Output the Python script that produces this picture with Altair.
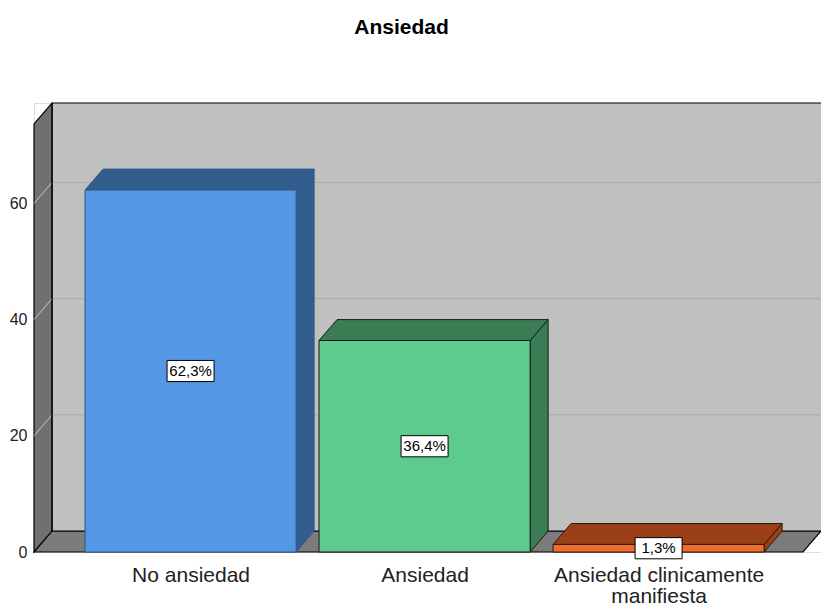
import altair as alt
import pandas as pd

# ---- data ----
categories = ["No ansiedad", "Ansiedad", "Ansiedad clinicamente manifiesta"]
axis_label_lines = [["No ansiedad"], ["Ansiedad"], ["Ansiedad clinicamente", "manifiesta"]]
percents = [62.3, 36.4, 1.3]
value_labels = ["62,3%", "36,4%", "1,3%"]
y_ticks = [0, 20, 40, 60]
title_text = "Ansiedad"

# ---- styles ----
front_colors = ["#5596e6", "#5ccb8b", "#f26b2b"]
dark_colors = ["#345d8f", "#3a7d55", "#9a3f18"]
edge_colors = ["#2f5a8a", "#1a1a1a", "#2a1a10"]
FONT = "Liberation Sans"

# 3D geometry (in data units)
HALF = 0.451     # half bar width
DX = 0.077       # depth offset along x
DY = 3.6         # depth offset along y
XMIN, XMAX = -0.669, 2.694
YMAX = 77.28

pos = list(range(len(categories)))

label_expr = "[" + ",".join(
    "[" + ",".join("'" + s + "'" for s in lines) + "]" for lines in axis_label_lines
) + "][datum.value]"

xscale = alt.Scale(domain=[XMIN, XMAX], nice=False, zero=False)
yscale = alt.Scale(domain=[0, YMAX], nice=False, zero=False)
xaxis = alt.Axis(values=pos, labelExpr=label_expr, domain=False, ticks=False, grid=False,
                 title=None, labelFontSize=21, labelFont=FONT, labelColor="#222222",
                 labelPadding=12, labelLineHeight=21, labelAngle=0, labelLimit=0)
yaxis = alt.Axis(values=y_ticks, domain=False, ticks=False, grid=False, title=None,
                 labelFontSize=16, labelFont=FONT, labelColor="#222222", labelPadding=7)


def X(f):
    return alt.X(f, type="quantitative", scale=xscale, axis=xaxis)


def Y(f):
    return alt.Y(f, type="quantitative", scale=yscale, axis=yaxis)


# ---- walls ----
back = pd.DataFrame({"x": [XMIN + DX], "x2": [XMAX], "y": [DY], "y2": [YMAX]})
back_wall = alt.Chart(back).mark_rect(fill="#c0c0c0").encode(
    x=X("x"), x2="x2", y=Y("y"), y2="y2")

grid_df = pd.DataFrame({"v": y_ticks})
grid_df["yb"] = grid_df["v"] + DY
grid_df["x"] = XMIN + DX
grid_df["x2"] = XMAX
grid_df["xf"] = XMIN
back_grid = alt.Chart(grid_df[grid_df["v"] > 0]).mark_rule(color="#a9a9a9", strokeWidth=1).encode(
    x=X("x"), x2="x2", y=Y("yb"))

edges = pd.DataFrame({
    "x": [XMIN + DX, XMIN + DX],
    "x2": [XMAX, XMIN + DX],
    "y": [YMAX, DY],
    "y2": [YMAX, YMAX],
})
back_edges = alt.Chart(edges).mark_rule(color="#000000", strokeWidth=1.2).encode(
    x=X("x"), x2="x2", y=Y("y"), y2="y2")

left = pd.DataFrame({"x": [XMIN, XMIN + DX], "y": [0, DY], "y2": [YMAX - DY, YMAX]})
left_wall = alt.Chart(left).mark_area(orient="vertical", fill="#707070", stroke="#000000",
                                      strokeWidth=1.2).encode(x=X("x"), y=Y("y"), y2="y2")

left_grid = alt.Chart(grid_df).mark_rule(color="#c8c8c8", strokeWidth=1).encode(
    x=X("xf"), x2="x", y=Y("v"), y2="yb")

floor = pd.DataFrame({"y": [0, DY], "x": [XMIN, XMIN + DX], "x2": [XMAX - DX, XMAX]})
floor_layer = alt.Chart(floor).mark_area(orient="horizontal", fill="#7b7b7b", stroke="#000000",
                                         strokeWidth=1.2).encode(y=Y("y"), x=X("x"), x2="x2")

# ---- bars ----
top_rows, side_rows = [], []
for i, (c, v) in enumerate(zip(pos, percents)):
    top_rows.append({"cat": categories[i], "y": v, "x": c - HALF, "x2": c + HALF,
                     "fill": dark_colors[i], "stroke": edge_colors[i]})
    top_rows.append({"cat": categories[i], "y": v + DY, "x": c - HALF + DX, "x2": c + HALF + DX,
                     "fill": dark_colors[i], "stroke": edge_colors[i]})
    side_rows.append({"cat": categories[i], "x": c + HALF, "y": 0, "y2": v,
                      "fill": dark_colors[i], "stroke": edge_colors[i]})
    side_rows.append({"cat": categories[i], "x": c + HALF + DX, "y": DY, "y2": v + DY,
                      "fill": dark_colors[i], "stroke": edge_colors[i]})
top_df = pd.DataFrame(top_rows)
side_df = pd.DataFrame(side_rows)

bar_tops = alt.Chart(top_df).mark_area(orient="horizontal", strokeWidth=1).encode(
    y=Y("y"), x=X("x"), x2="x2", detail="cat:N",
    fill=alt.Fill("fill:N", scale=None), stroke=alt.Stroke("stroke:N", scale=None))

bar_sides = alt.Chart(side_df).mark_area(orient="vertical", strokeWidth=1).encode(
    x=X("x"), y=Y("y"), y2="y2", detail="cat:N",
    fill=alt.Fill("fill:N", scale=None), stroke=alt.Stroke("stroke:N", scale=None))

front_df = pd.DataFrame({
    "cat": categories,
    "x": [c - HALF for c in pos],
    "x2": [c + HALF for c in pos],
    "c": pos,
    "v": percents,
    "mid": [v / 2 for v in percents],
    "label": value_labels,
    "fill": front_colors,
    "stroke": edge_colors,
})
front_df["y0"] = 0

bar_fronts = alt.Chart(front_df).mark_rect(strokeWidth=1).encode(
    x=X("x"), x2="x2", y=Y("y0"), y2="v",
    fill=alt.Fill("fill:N", scale=None), stroke=alt.Stroke("stroke:N", scale=None))

label_boxes = alt.Chart(front_df).mark_point(
    shape="M-1,-0.45H1V0.45H-1Z", size=2209, filled=True, fill="#ffffff", stroke="#000000",
    strokeWidth=1, opacity=1).encode(x=X("c"), y=Y("mid"))

label_text = alt.Chart(front_df).mark_text(
    font=FONT, fontSize=15, color="#000000", baseline="middle", align="center").encode(
    x=X("c"), y=Y("mid"), text="label:N")

chart = alt.layer(
    back_wall, back_grid, left_wall, left_grid, floor_layer, back_edges,
    bar_sides, bar_tops, bar_fronts, label_boxes, label_text,
).properties(
    width=787, height=449,
    title=alt.TitleParams(title_text, font=FONT, fontSize=21, fontWeight="bold",
                          color="#000000", anchor="middle", dx=-26, offset=63),
    autosize=alt.AutoSizeParams(type="none"),
    padding={"left": 34, "top": 103, "right": 0, "bottom": 53},
).configure_view(stroke=None).configure(background="#ffffff")

chart.save("out.html", embed_options={"renderer": "svg", "actions": False})
